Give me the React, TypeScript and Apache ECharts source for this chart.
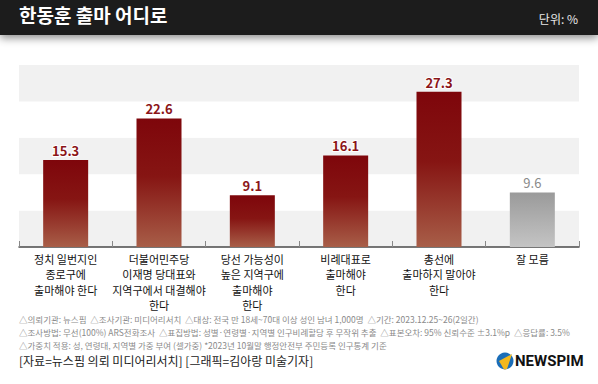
import React, { useEffect, useRef } from "react";
import * as echarts from "echarts";

const title = "한동훈 출마 어디로";
const unitText = "단위: %";
const categories = [
  "정치 일번지인\n종로구에\n출마해야 한다",
  "더불어민주당\n이재명 당대표와\n지역구에서 대결해야\n한다",
  "당선 가능성이\n높은 지역구에\n출마해야\n한다",
  "비례대표로\n출마해야\n한다",
  "총선에\n출마하지 말아야\n한다",
  "잘 모름",
];
const values = [15.3, 22.6, 9.1, 16.1, 27.3, 9.6];
const notes = [
  "△의뢰기관: 뉴스핌  △조사기관: 미디어리서치  △대상: 전국 만 18세~70대 이상 성인 남녀 1,000명  △기간: 2023.12.25~26(2일간)",
  "△조사방법: 무선(100%) ARS전화조사  △표집방법: 성별·연령별·지역별 인구비례할당 후 무작위 추출  △표본오차: 95% 신뢰수준 ±3.1%p  △응답률: 3.5%",
  "△가중치 적용: 성, 연령대, 지역별 가중 부여 (셀가중) *2023년 10월말 행정안전부 주민등록 인구통계 기준",
];
const sourceText = "[자료=뉴스핌 의뢰 미디어리서치] [그래픽=김아랑 미술기자]";
const logoText = "NEWSPIM";

const FONT = "'Noto Sans CJK KR', 'Noto Sans', sans-serif";

export default function App() {
  const ref = useRef<HTMLDivElement>(null);
  useEffect(() => {
    document.body.style.margin = "0";
    const chart = echarts.init(ref.current!, null, { renderer: "svg" });
    const red = new echarts.graphic.LinearGradient(0, 0, 0, 1, [
      { offset: 0, color: "#7e060b" },
      { offset: 0.45, color: "#861513" },
      { offset: 1, color: "#a85e48" },
    ]);
    const grey = new echarts.graphic.LinearGradient(0, 0, 0, 1, [
      { offset: 0, color: "#9a9a9a" },
      { offset: 1, color: "#c4c4c4" },
    ]);
    const last = values.length - 1;
    const data = values.map((v, i) => ({
      value: v,
      itemStyle: { color: i === last ? grey : red },
      label:
        i === last
          ? { color: "#8a8a8a", fontWeight: "normal" as const, textBorderWidth: 0 }
          : {},
    }));
    chart.setOption({
      animation: false,
      textStyle: { fontFamily: FONT },
      grid: { left: 19, right: 19, top: 65, bottom: 137, containLabel: false },
      xAxis: {
        type: "category",
        data: categories,
        axisLine: { lineStyle: { color: "#4a4a4a", width: 1.5 } },
        axisTick: { show: true, inside: true, length: 6, lineStyle: { color: "#888" } },
        axisLabel: {
          interval: 0,
          fontSize: 11,
          lineHeight: 15.5,
          color: "#111",
          margin: 4,
          fontFamily: FONT,
        },
      },
      yAxis: {
        type: "value",
        min: 0,
        max: 32,
        interval: 6.4,
        axisLabel: { show: false },
        axisLine: { show: false },
        axisTick: { show: false },
        splitLine: { show: false },
        splitArea: { show: true, areaStyle: { color: ["#f1f1f1", "#ffffff"] } },
      },
      series: [
        {
          type: "bar",
          data,
          barWidth: 45,
          label: {
            show: true,
            position: "top",
            distance: 3,
            fontSize: 13,
            fontWeight: "bold",
            color: "#8b1518",
            textBorderColor: "#fff",
            textBorderWidth: 2,
            fontFamily: FONT,
          },
        },
      ],
      graphic: [
        {
          type: "rect",
          shape: { x: 0, y: 0, width: 598, height: 35 },
          style: {
            fill: "#1c1c1c",
            shadowColor: "rgba(0,0,0,0.45)",
            shadowBlur: 8,
            shadowOffsetY: 3,
          },
          z: 10,
        },
        {
          type: "text",
          left: 19,
          top: 5,
          z: 11,
          style: {
            text: title,
            fill: "#fff",
            font: `bold 19px ${FONT}`,
          },
        },
        {
          type: "text",
          right: 20,
          top: 12,
          z: 11,
          style: { text: unitText, fill: "#e8e8e8", font: `12px ${FONT}` },
        },
        ...notes.map((t, i) => ({
          type: "text",
          left: 19,
          top: 315 + i * 13,
          style: { text: t, fill: "#8a8a8a", font: `8.5px ${FONT}` },
        })),
        {
          type: "text",
          left: 19,
          top: 354,
          style: { text: sourceText, fill: "#222", font: `12px ${FONT}` },
        },
        {
          type: "circle",
          shape: { cx: 505, cy: 361, r: 8.5 },
          style: { fill: "#1a6db8" },
        },
        {
          type: "polygon",
          shape: {
            points: [
              [512, 354],
              [507, 369],
              [504, 369.5],
              [499, 361],
            ],
          },
          style: { fill: "#f2b81c" },
        },
        {
          type: "text",
          left: 515,
          top: 353,
          style: {
            text: logoText,
            fill: "#111",
            font: `bold 15px 'Liberation Sans Narrow', 'Roboto', sans-serif`,
          },
        },
      ],
    });
    return () => chart.dispose();
  }, []);
  return <div ref={ref} style={{ width: 598, height: 384 }} />;
}
